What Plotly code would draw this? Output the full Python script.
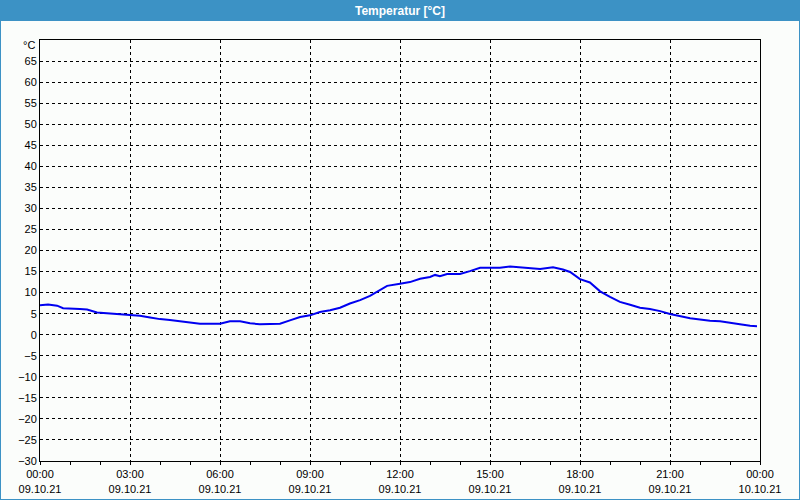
import plotly.graph_objects as go

# Data: hours since 09.10.21 00:00, temperature in °C
hours = [0.0, 0.27, 0.57, 0.77, 1.33, 1.57, 1.9, 2.33, 2.67, 3.0, 3.33, 3.67, 4.0, 4.33,
         4.67, 5.0, 5.33, 6.0, 6.33, 6.67, 7.0, 7.33, 8.0, 8.33, 8.67, 9.0, 9.33, 9.67,
         10.0, 10.33, 10.67, 11.0, 11.33, 11.57, 12.0, 12.33, 12.67, 13.0, 13.17, 13.33,
         13.57, 14.0, 14.33, 14.67, 15.0, 15.33, 15.67, 16.0, 16.67, 17.1, 17.43, 17.67,
         18.0, 18.33, 18.67, 19.0, 19.33, 19.67, 20.0, 20.33, 20.67, 21.0, 21.33, 21.67,
         22.0, 22.33, 22.67, 23.0, 23.33, 23.67, 23.9]
temps = [7.0, 7.2, 6.9, 6.3, 6.1, 6.0, 5.3, 5.1, 4.8, 4.8, 4.5, 4.1, 3.7, 3.5,
         3.2, 2.9, 2.6, 2.6, 3.2, 3.2, 2.7, 2.5, 2.6, 3.4, 4.2, 4.6, 5.4, 5.8,
         6.4, 7.4, 8.2, 9.2, 10.7, 11.6, 12.1, 12.5, 13.3, 13.7, 14.2, 13.9,
         14.4, 14.4, 15.1, 15.9, 15.9, 15.9, 16.2, 16.0, 15.6, 16.0, 15.5, 14.9,
         13.2, 12.4, 10.3, 9.0, 7.8, 7.1, 6.4, 6.1, 5.6, 4.9, 4.4, 3.9,
         3.6, 3.3, 3.2, 2.9, 2.5, 2.1, 2.0]

x_tickvals = [0, 3, 6, 9, 12, 15, 18, 21, 24]
x_ticktext = ["00:00<br>09.10.21", "03:00<br>09.10.21", "06:00<br>09.10.21",
              "09:00<br>09.10.21", "12:00<br>09.10.21", "15:00<br>09.10.21",
              "18:00<br>09.10.21", "21:00<br>09.10.21", "00:00<br>10.10.21"]
y_tickvals = list(range(-30, 70, 5))
title_text = "Temperatur [°C]"
unit_text = "°C"

W, H = 800, 500
L, R, T, B = 40, 40, 40, 39
PW, PH = W - L - R, H - T - B

def px(xp):
    return (xp - L) / PW

def py(yp):
    return 1 - (yp - T) / PH

BLUE = "#3c92c5"
BG = "#fbfdfb"
FONT = "Liberation Sans"

fig = go.Figure()
fig.add_trace(go.Scatter(x=hours, y=temps, mode="lines",
                         line=dict(color="#0000f0", width=2), hoverinfo="skip"))

fig.update_layout(
    width=W, height=H,
    margin=dict(l=L, r=R, t=T, b=B, pad=0, autoexpand=False),
    paper_bgcolor=BLUE,
    plot_bgcolor="rgba(0,0,0,0)",
    showlegend=False,
    font=dict(family=FONT, size=11, color="black"),
    shapes=[
        dict(type="rect", xref="paper", yref="paper",
             x0=px(1), x1=px(799), y0=py(499), y1=py(21),
             fillcolor=BG, line=dict(width=0), layer="below"),
    ],
    annotations=[
        dict(text="<b>" + title_text + "</b>", xref="paper", yref="paper",
             x=0.5, y=py(11), xanchor="center", yanchor="middle", showarrow=False,
             font=dict(family=FONT, size=12, color="white")),
        dict(text=unit_text, xref="paper", yref="y", x=px(37), y=68.9,
             xanchor="right", yanchor="middle", showarrow=False,
             font=dict(family=FONT, size=11, color="black")),
    ],
)

fig.update_xaxes(
    range=[0, 24], tickmode="array", tickvals=x_tickvals, ticktext=x_ticktext,
    showgrid=True, gridcolor="black", gridwidth=1, griddash="3px,3px",
    showline=True, linecolor="black", linewidth=1, mirror=True,
    ticks="outside", ticklen=3, tickcolor="black",
    minor=dict(dtick=1, tick0=0, ticks="outside", ticklen=3, tickcolor="black", showgrid=False),
    zeroline=False, automargin=False, tickfont=dict(family=FONT, size=11, color="black"),
)
fig.update_yaxes(
    range=[-30, 70], tickmode="array", tickvals=y_tickvals,
    showgrid=True, gridcolor="black", gridwidth=1, griddash="3px,3px",
    showline=True, linecolor="black", linewidth=1, mirror=True,
    ticks="", zeroline=False, automargin=False,
    tickfont=dict(family=FONT, size=11, color="black"),
)

fig.write_html("out.html")
